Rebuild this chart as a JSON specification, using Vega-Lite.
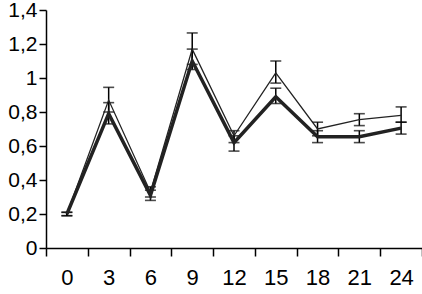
{
  "$schema": "https://vega.github.io/schema/vega-lite/v6.json",
  "width": 376,
  "height": 238,
  "autosize": {"type": "none"},
  "padding": {"left": 46, "top": 10, "right": 0, "bottom": 46},
  "background": "white",
  "config": {
    "view": {"stroke": null},
    "axis": {
      "grid": false,
      "domainColor": "#000",
      "tickColor": "#000",
      "domainWidth": 1.5,
      "tickWidth": 1.5,
      "labelFont": "Liberation Sans, Arial, sans-serif",
      "labelFontSize": 22,
      "labelColor": "#000",
      "title": null
    }
  },
  "data": {
    "values": [
      {"t": 0, "s": "A", "m": 0.2, "lo": 0.19, "hi": 0.21},
      {"t": 3, "s": "A", "m": 0.87, "lo": 0.8, "hi": 0.945},
      {"t": 6, "s": "A", "m": 0.33, "lo": 0.3, "hi": 0.36},
      {"t": 9, "s": "A", "m": 1.17, "lo": 1.08, "hi": 1.265},
      {"t": 12, "s": "A", "m": 0.66, "lo": 0.62, "hi": 0.69},
      {"t": 15, "s": "A", "m": 1.03, "lo": 0.97, "hi": 1.1},
      {"t": 18, "s": "A", "m": 0.7, "lo": 0.66, "hi": 0.74},
      {"t": 21, "s": "A", "m": 0.755, "lo": 0.72, "hi": 0.79},
      {"t": 24, "s": "A", "m": 0.78, "lo": 0.74, "hi": 0.83},
      {"t": 0, "s": "B", "m": 0.2, "lo": 0.19, "hi": 0.21},
      {"t": 3, "s": "B", "m": 0.79, "lo": 0.73, "hi": 0.855},
      {"t": 6, "s": "B", "m": 0.31, "lo": 0.28, "hi": 0.34},
      {"t": 9, "s": "B", "m": 1.1, "lo": 1.05, "hi": 1.17},
      {"t": 12, "s": "B", "m": 0.62, "lo": 0.57, "hi": 0.66},
      {"t": 15, "s": "B", "m": 0.89, "lo": 0.85, "hi": 0.94},
      {"t": 18, "s": "B", "m": 0.655, "lo": 0.62, "hi": 0.69},
      {"t": 21, "s": "B", "m": 0.655, "lo": 0.62, "hi": 0.69},
      {"t": 24, "s": "B", "m": 0.705, "lo": 0.67, "hi": 0.74}
    ]
  },
  "encoding": {
    "x": {
      "field": "t",
      "type": "ordinal",
      "scale": {"paddingInner": 0, "paddingOuter": 0},
      "axis": {"labelAngle": 0, "tickBand": "extent", "tickSize": 8, "labelPadding": 11}
    },
    "y": {
      "field": "lo",
      "type": "quantitative",
      "scale": {"domain": [0, 1.4], "nice": false},
      "axis": {
        "values": [0, 0.2, 0.4, 0.6, 0.8, 1, 1.2, 1.4],
        "tickSize": 7,
        "labelPadding": 2,
        "labelFontSize": 21,
        "labelOverlap": false,
        "labelSeparation": 0,
        "labelExpr": "replace(format(datum.value, '~g'), '.', ',')"
      }
    }
  },
  "layer": [
    {
      "mark": {"type": "rule", "color": "#000", "strokeWidth": 1.5},
      "encoding": {"y2": {"field": "hi"}}
    },
    {
      "mark": {"type": "tick", "color": "#000", "thickness": 1.6, "size": 11},
      "encoding": {}
    },
    {
      "mark": {"type": "tick", "color": "#000", "thickness": 1.6, "size": 11},
      "encoding": {"y": {"field": "hi", "type": "quantitative"}}
    },
    {
      "mark": {"type": "line", "color": "#222"},
      "encoding": {
        "y": {"field": "m", "type": "quantitative"},
        "detail": {"field": "s"},
        "strokeWidth": {
          "field": "s",
          "type": "nominal",
          "scale": {"domain": ["A", "B"], "range": [1.3, 3.5]},
          "legend": null
        }
      }
    }
  ]
}
